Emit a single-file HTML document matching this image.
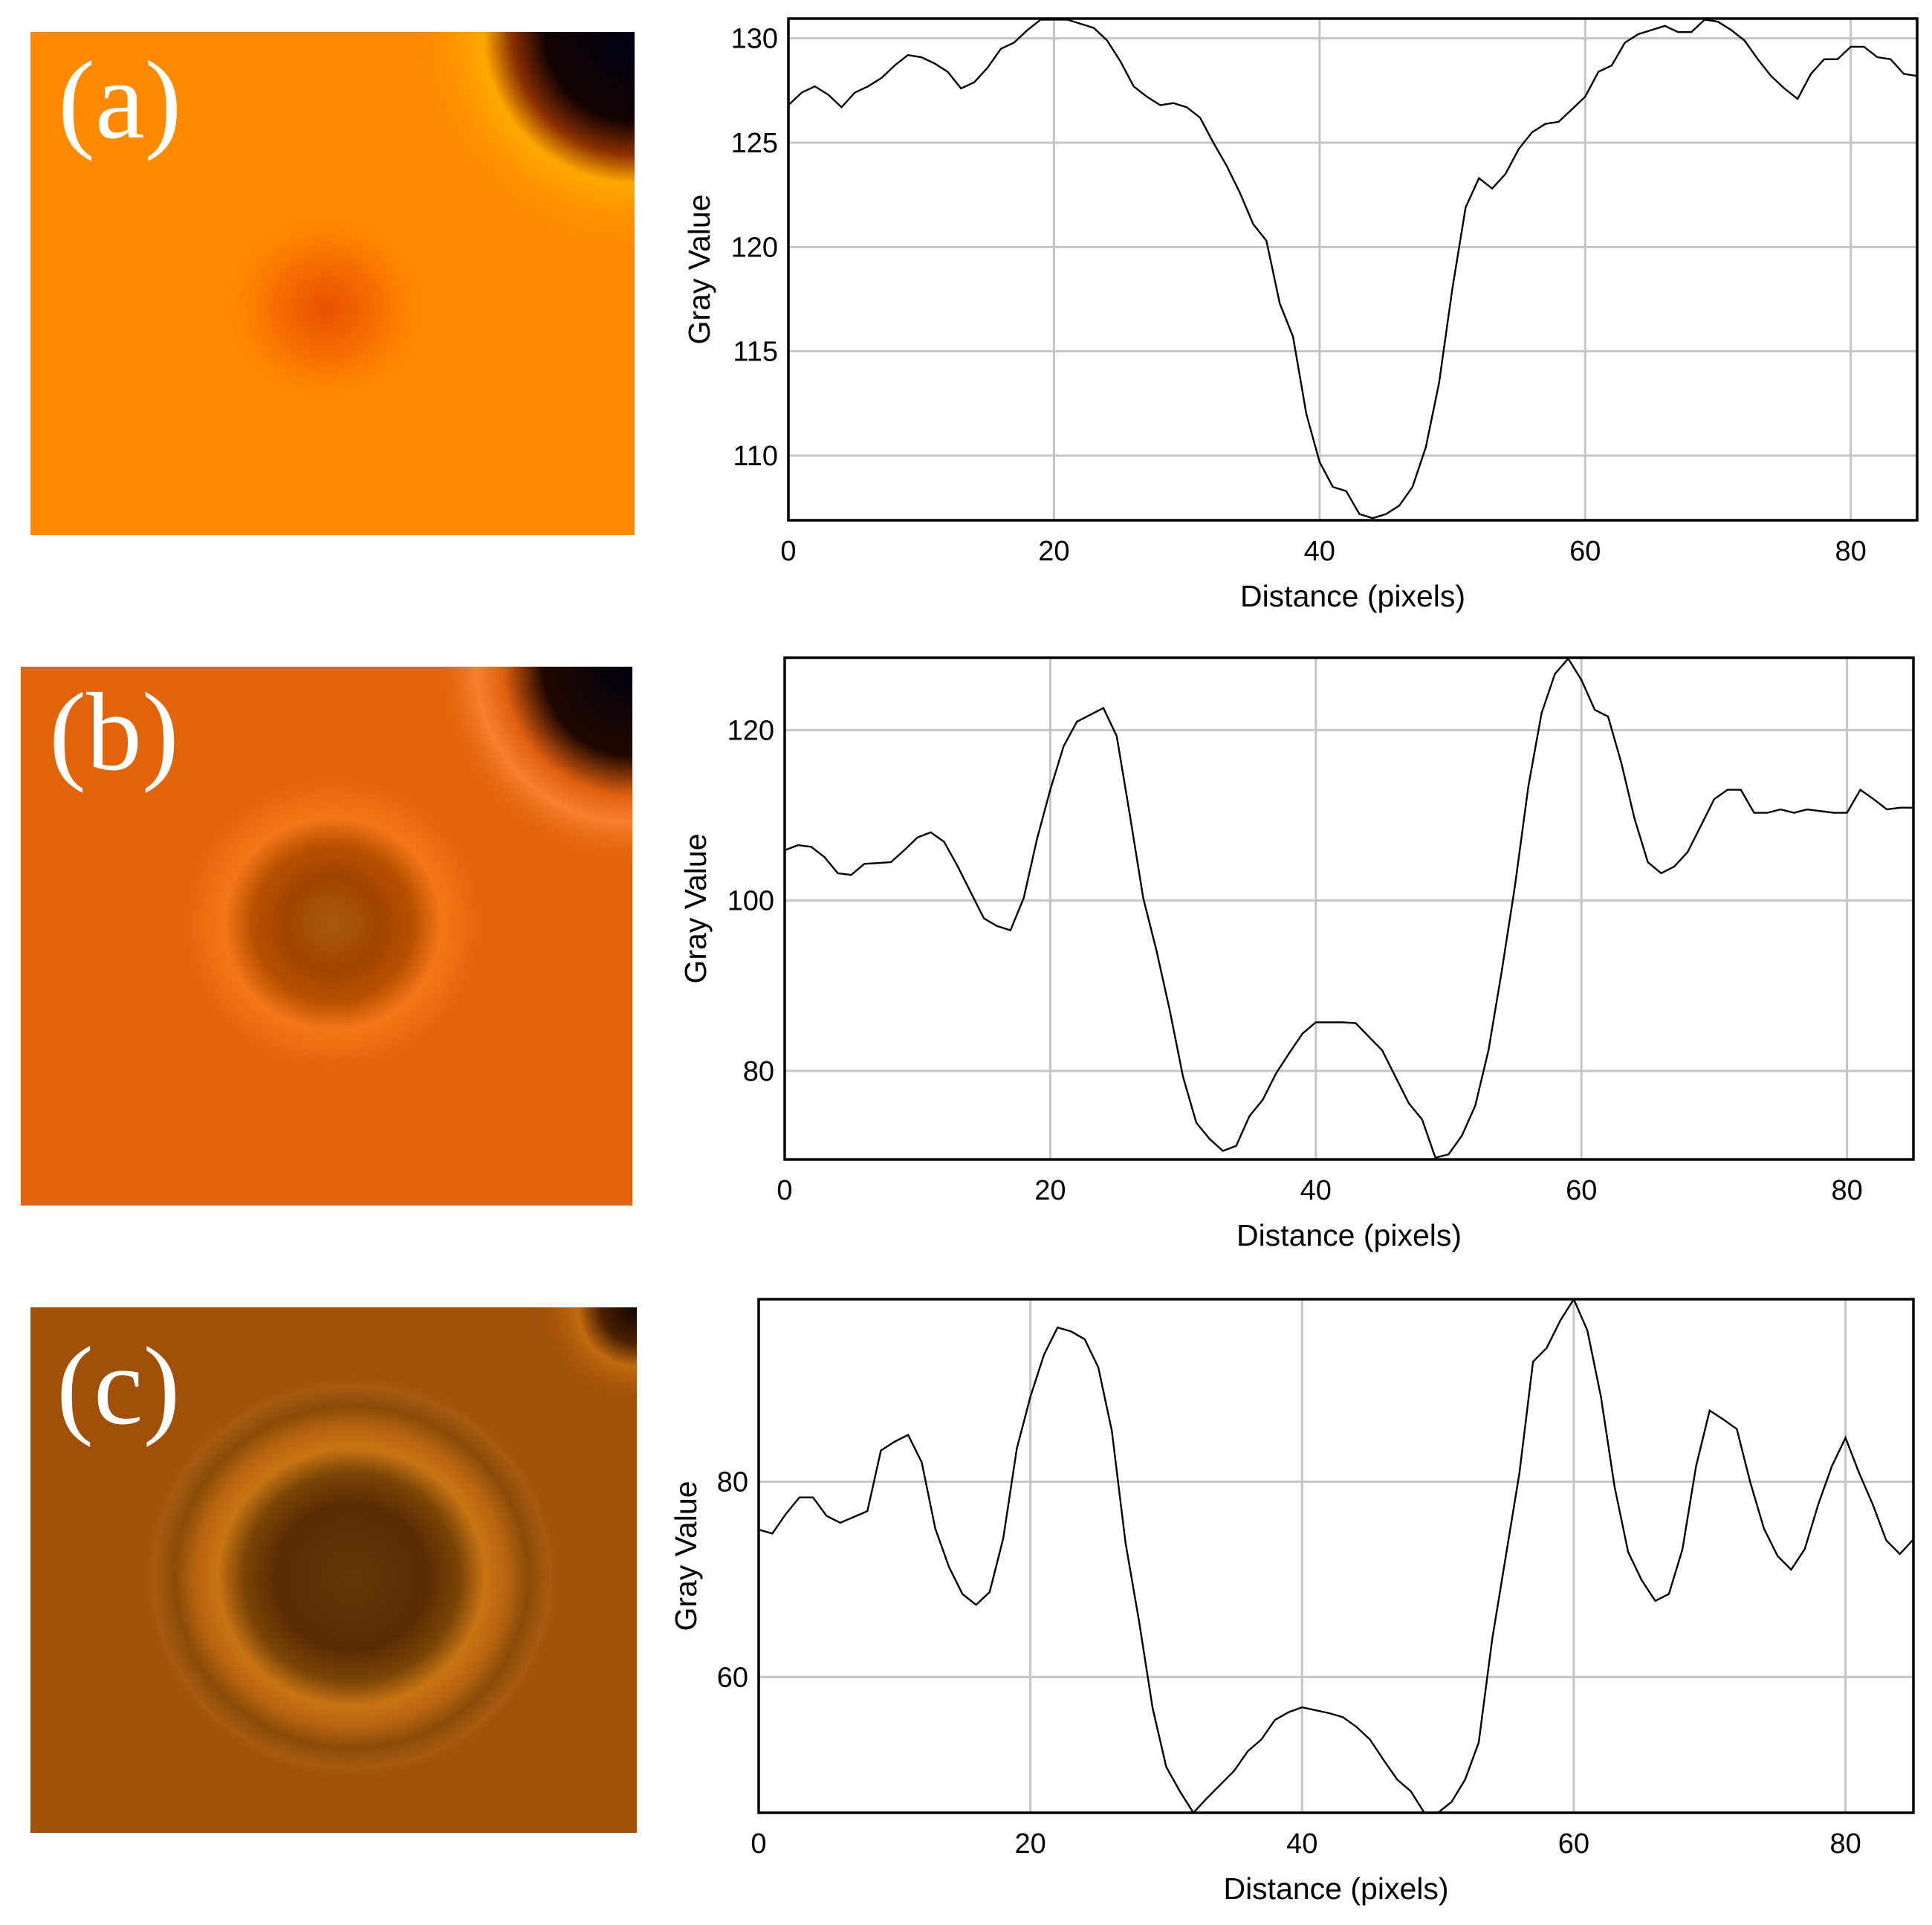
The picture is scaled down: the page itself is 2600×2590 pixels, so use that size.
<!DOCTYPE html>
<html><head><meta charset="utf-8"><title>Gray value profiles</title>
<style>
html,body{margin:0;padding:0;background:#fff;}
svg{display:block;}
text{font-family:"Liberation Sans","DejaVu Sans",sans-serif;}
</style></head>
<body>
<svg id="fig" width="2600" height="2590" viewBox="0 0 2600 2590" xmlns="http://www.w3.org/2000/svg">
<defs>
  <radialGradient id="spotA" cx="0.5" cy="0.5" r="0.5">
    <stop offset="0" stop-color="#E85200"/><stop offset="0.5" stop-color="#F87000"/><stop offset="1" stop-color="#FF8A00" stop-opacity="0"/>
  </radialGradient>
  <radialGradient id="cornerA" cx="1" cy="0" r="1">
    <stop offset="0" stop-color="#000018"/><stop offset="0.4" stop-color="#120300"/><stop offset="0.55" stop-color="#8a3000"/><stop offset="0.68" stop-color="#FFA800"/><stop offset="0.82" stop-color="#FF9400"/><stop offset="1" stop-color="#FF8A00" stop-opacity="0"/>
  </radialGradient>
  <radialGradient id="ringB" cx="0.5" cy="0.5" r="0.5">
    <stop offset="0" stop-color="#A85A10"/><stop offset="0.3" stop-color="#A04400"/><stop offset="0.5" stop-color="#B85000"/><stop offset="0.68" stop-color="#F47618"/><stop offset="0.8" stop-color="#EE6E12"/><stop offset="1" stop-color="#E2640A" stop-opacity="0"/>
  </radialGradient>
  <radialGradient id="cornerB" cx="1" cy="0" r="1">
    <stop offset="0" stop-color="#000010"/><stop offset="0.4" stop-color="#200800"/><stop offset="0.58" stop-color="#E06010"/><stop offset="0.7" stop-color="#F88030"/><stop offset="0.9" stop-color="#E2640A" stop-opacity="0"/>
  </radialGradient>
  <radialGradient id="ringC" cx="0.5" cy="0.5" r="0.5">
    <stop offset="0" stop-color="#623808"/><stop offset="0.35" stop-color="#5A2C04"/><stop offset="0.5" stop-color="#7A4406"/><stop offset="0.62" stop-color="#C87414"/><stop offset="0.72" stop-color="#B86410"/><stop offset="0.82" stop-color="#8A4C08"/><stop offset="0.92" stop-color="#A85A10"/><stop offset="1" stop-color="#A05008" stop-opacity="0"/>
  </radialGradient>
  <radialGradient id="cornerC" cx="1" cy="0" r="1">
    <stop offset="0" stop-color="#100500"/><stop offset="0.12" stop-color="#4a2000"/><stop offset="0.2" stop-color="#C06A10"/><stop offset="0.35" stop-color="#A05008" stop-opacity="0"/>
  </radialGradient>
</defs>

<g>
  <rect x="41" y="43" width="813" height="677" fill="#FF8A00"/>
  <ellipse cx="439" cy="415" rx="150" ry="140" fill="url(#spotA)"/>
  <rect x="554" y="43" width="300" height="300" fill="url(#cornerA)"/>
  <text x="78" y="185" font-size="150" fill="#fff" style="font-family:'Liberation Serif',serif">(a)</text>
</g>
<g>
  <rect x="28" y="897" width="823" height="725" fill="#E2640A"/>
  <ellipse cx="448" cy="1243" rx="215" ry="210" fill="url(#ringB)"/>
  <rect x="551" y="897" width="300" height="300" fill="url(#cornerB)"/>
  <text x="66" y="1035" font-size="150" fill="#fff" style="font-family:'Liberation Serif',serif">(b)</text>
</g>
<g>
  <rect x="41" y="1759" width="816" height="707" fill="#A05008"/>
  <ellipse cx="473" cy="2122" rx="290" ry="280" fill="url(#ringC)"/>
  <rect x="457" y="1759" width="400" height="400" fill="url(#cornerC)"/>
  <text x="76" y="1915" font-size="150" fill="#fff" style="font-family:'Liberation Serif',serif">(c)</text>
</g>
<g id="charts"></g>
</svg>
<script>
const xTicks = [0, 20, 40, 60, 80];
const yTicksA = [110, 115, 120, 125, 130];
const yTicksB = [80, 100, 120];
const yTicksC = [60, 80];
const seriesA = [126.8,127.4,127.7,127.3,126.7,127.4,127.7,128.1,128.7,129.2,129.1,128.8,128.4,127.6,127.9,128.6,129.5,129.8,130.4,130.9,130.9,130.9,130.7,130.5,129.9,128.9,127.7,127.2,126.8,126.9,126.7,126.2,125.0,123.9,122.6,121.1,120.3,117.3,115.7,112.0,109.7,108.5,108.3,107.2,107.0,107.2,107.6,108.5,110.4,113.5,118.0,121.9,123.3,122.8,123.5,124.7,125.5,125.9,126.0,126.6,127.2,128.4,128.7,129.8,130.2,130.4,130.6,130.3,130.3,130.9,130.8,130.4,129.9,129.0,128.2,127.6,127.1,128.3,129.0,129.0,129.6,129.6,129.1,129.0,128.3,128.2];
const seriesB = [105.9,106.5,106.3,105.1,103.2,103.0,104.3,104.4,104.5,105.9,107.4,108.0,106.9,104.1,101.0,97.9,97.0,96.5,100.3,107.2,113.0,118.1,121.0,121.8,122.6,119.3,110.0,100.3,94.1,87.1,79.3,73.9,72.0,70.6,71.2,74.7,76.6,79.7,82.1,84.4,85.7,85.7,85.7,85.6,84.0,82.4,79.3,76.2,74.3,69.8,70.2,72.4,75.9,82.4,91.7,101.8,113.4,122.0,126.6,128.4,125.9,122.4,121.6,116.2,109.6,104.5,103.2,104.0,105.7,108.8,111.9,113.0,113.0,110.3,110.3,110.7,110.3,110.7,110.5,110.3,110.3,113.0,111.9,110.7,110.9,110.9];
const seriesC = [75.1,74.7,76.7,78.4,78.4,76.5,75.8,76.4,77.0,83.2,84.1,84.8,82.0,75.2,71.3,68.5,67.4,68.7,74.2,83.4,88.7,93.0,95.8,95.4,94.6,91.7,85.2,73.8,65.7,56.8,50.8,48.3,46.1,47.6,49.0,50.4,52.4,53.6,55.6,56.4,56.9,56.6,56.3,55.9,54.9,53.6,51.5,49.5,48.3,46.1,46.1,47.2,49.5,53.3,63.9,72.4,80.9,92.3,93.7,96.5,98.7,95.5,88.7,79.5,72.8,69.9,67.8,68.5,73.1,81.6,87.3,86.4,85.4,79.9,75.2,72.4,71.0,73.1,77.7,81.6,84.5,80.9,77.7,74.0,72.6,74.1];

const NS = "http://www.w3.org/2000/svg";
const root = document.getElementById('charts');
function mk(tag, attrs, parent){
  const e = document.createElementNS(NS, tag);
  for (const k in attrs) e.setAttribute(k, attrs[k]);
  parent.appendChild(e); return e;
}
function drawChart(key, box, yMin, yMax, yTicks, data){
  const g = mk('g', {}, root);
  
  
  const xMax = 85;
  const sx = v => box.l + (v / xMax) * (box.r - box.l);
  const sy = v => box.b - (v - yMin) / (yMax - yMin) * (box.b - box.t);
  mk('rect', {x:box.l, y:box.t, width:box.r-box.l, height:box.b-box.t, fill:'#fff'}, g);
  xTicks.forEach(t => {
    const ln = mk('line', {x1:sx(t), x2:sx(t), y1:box.t, y2:box.b, stroke:'#c4c4c4', 'stroke-width':3}, g);
    
    
    const tx = mk('text', {x:sx(t), y:box.b+54, 'font-size':38, 'text-anchor':'middle', fill:'#000'}, g);
    tx.textContent = t;
    
    
  });
  yTicks.forEach(t => {
    const ln = mk('line', {x1:box.l, x2:box.r, y1:sy(t), y2:sy(t), stroke:'#c4c4c4', 'stroke-width':3}, g);
    
    
    const tx = mk('text', {x:box.l-14, y:sy(t)+13, 'font-size':38, 'text-anchor':'end', fill:'#000'}, g);
    tx.textContent = t;
    
    
  });
  const pts = data.map((v,i) => sx(i).toFixed(1) + ',' + sy(v).toFixed(1)).join(' ');
  const line = mk('polyline', {points:pts, fill:'none', stroke:'#000', 'stroke-width':2.4, 'stroke-linejoin':'miter'}, g);
  
  
  const fr = mk('rect', {x:box.l, y:box.t, width:box.r-box.l, height:box.b-box.t, fill:'none', stroke:'#000', 'stroke-width':3.5}, g);
  
  
  const xt = mk('text', {x:(box.l+box.r)/2, y:box.b+116, 'font-size':41, 'text-anchor':'middle', fill:'#000'}, g);
  xt.textContent = 'Distance (pixels)';
  
  
  const yc = (box.t+box.b)/2;
  const yt = mk('text', {x:box.yTitleX, y:yc, 'font-size':41, 'text-anchor':'middle', fill:'#000', transform:'rotate(-90 '+box.yTitleX+' '+yc+')'}, g);
  yt.textContent = 'Gray Value';
  
  
}
drawChart('a', {l:1061, r:2580, t:25, b:700, yTitleX:955}, 106.9, 130.95, yTicksA, seriesA);
drawChart('b', {l:1056, r:2575, t:885, b:1560, yTitleX:950}, 69.6, 128.5, yTicksB, seriesB);
drawChart('c', {l:1021, r:2575, t:1748, b:2439, yTitleX:937}, 46.1, 98.7, yTicksC, seriesC);
</script>
</body></html>
